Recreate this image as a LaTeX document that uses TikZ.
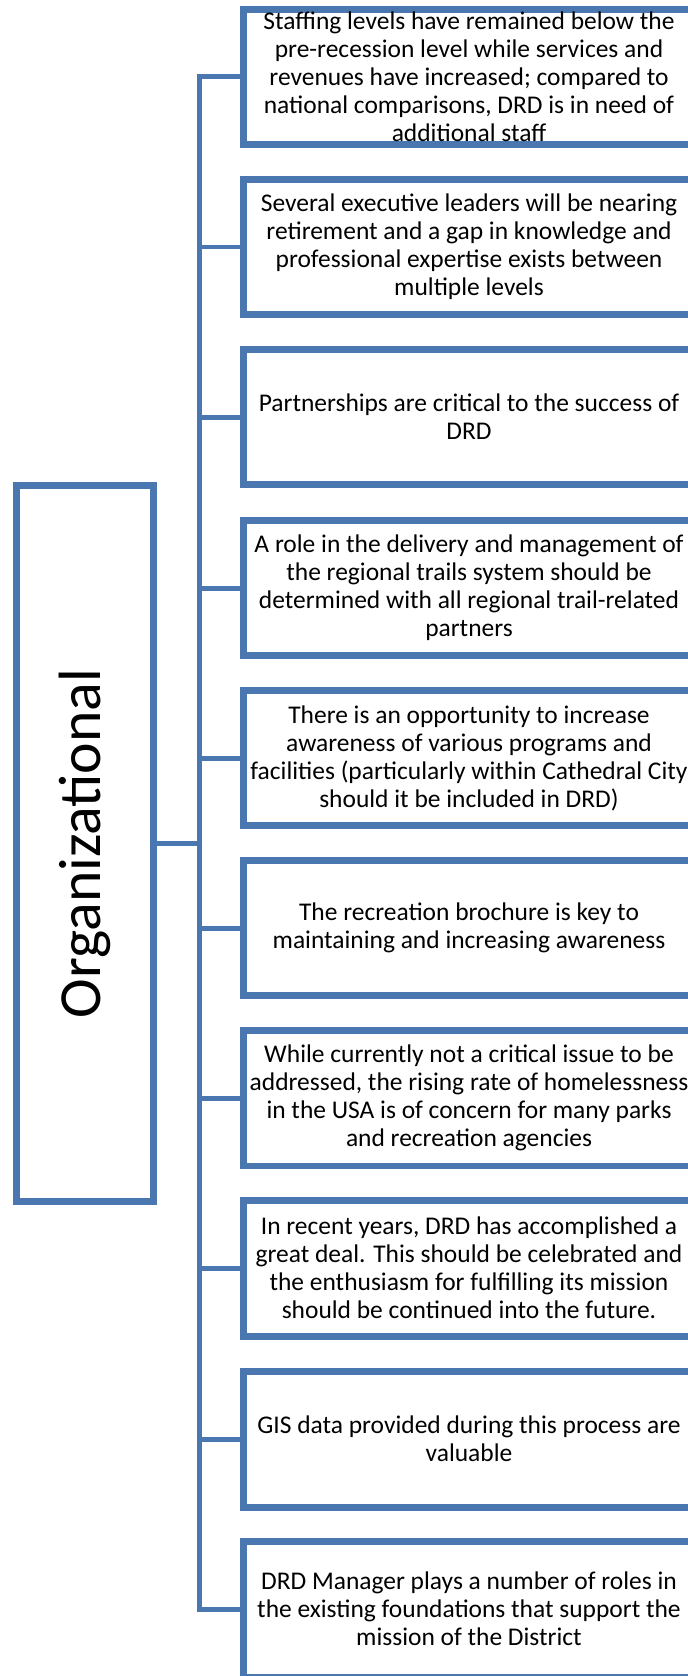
\documentclass[tikz,border=0pt]{standalone}
\usepackage{fontspec}
\setmainfont{Carlito}
\usetikzlibrary{shadows}
\definecolor{frame}{HTML}{4A77AF}

\begin{document}
\begin{tikzpicture}[x=0.02cm,y=-0.02cm,
 font=\fontsize{14.5}{15.94}\selectfont,
 issue/.style={draw=frame,line width=0.14cm,fill=white,inner sep=0pt,
  minimum width=9.03cm,minimum height=2.72cm,align=center,
  drop shadow={shadow xshift=0.4pt,shadow yshift=-1.6pt,opacity=0.3}},
 theme/.style={issue,minimum width=2.76cm,minimum height=14.34cm,
  font=\fontsize{34}{40}\selectfont},
 link/.style={draw=frame,line width=0.1cm}]
\useasboundingbox (0,0) rectangle (687,1676);
% theme box on the left
\node[theme] (org) at (85,843.5) {\rotatebox{90}{Organizational}};
% issue boxes, one per finding
\node[issue] (issue1) at (469,77) {Staffing levels have remained below the\\pre-recession level while services and\\revenues have increased; compared to\\national comparisons, DRD is in need of\\additional staff};
\node[issue] (issue2) at (469,247) {Several executive leaders will be nearing\\retirement and a gap in knowledge and\\professional expertise exists between\\multiple levels};
\node[issue] (issue3) at (469,417) {Partnerships are critical to the success of\\DRD};
\node[issue] (issue4) at (469,588) {A role in the delivery and management of\\the regional trails system should be\\determined with all regional trail-related\\partners};
\node[issue] (issue5) at (469,758) {There is an opportunity to increase\\awareness of various programs and\\facilities (particularly within Cathedral City\\should it be included in DRD)};
\node[issue] (issue6) at (469,928) {The recreation brochure is key to\\maintaining and increasing awareness};
\node[issue] (issue7) at (469,1098) {While currently not a critical issue to be\\addressed, the rising rate of homelessness\\in the USA is of concern for many parks\\and recreation agencies};
\node[issue] (issue8) at (469,1268) {In recent years, DRD has accomplished a\\great deal. This should be celebrated and\\the enthusiasm for fulfilling its mission\\should be continued into the future.};
\node[issue] (issue9) at (469,1439) {GIS data provided during this process are\\valuable};
\node[issue] (issue10) at (469,1609) {DRD Manager plays a number of roles in\\the existing foundations that support the\\mission of the District};
% bracket
\coordinate (trunk) at (199,0);
\draw[link] (issue1.west) -- (trunk |- issue1.west) -- (trunk |- issue10.west) -- (issue10.west);
\foreach \i in {2,...,9}{\draw[link] (trunk |- issue\i.west) -- (issue\i.west);}
\draw[link] (org.east) -- (trunk |- org.east);
\end{tikzpicture}
\end{document}
